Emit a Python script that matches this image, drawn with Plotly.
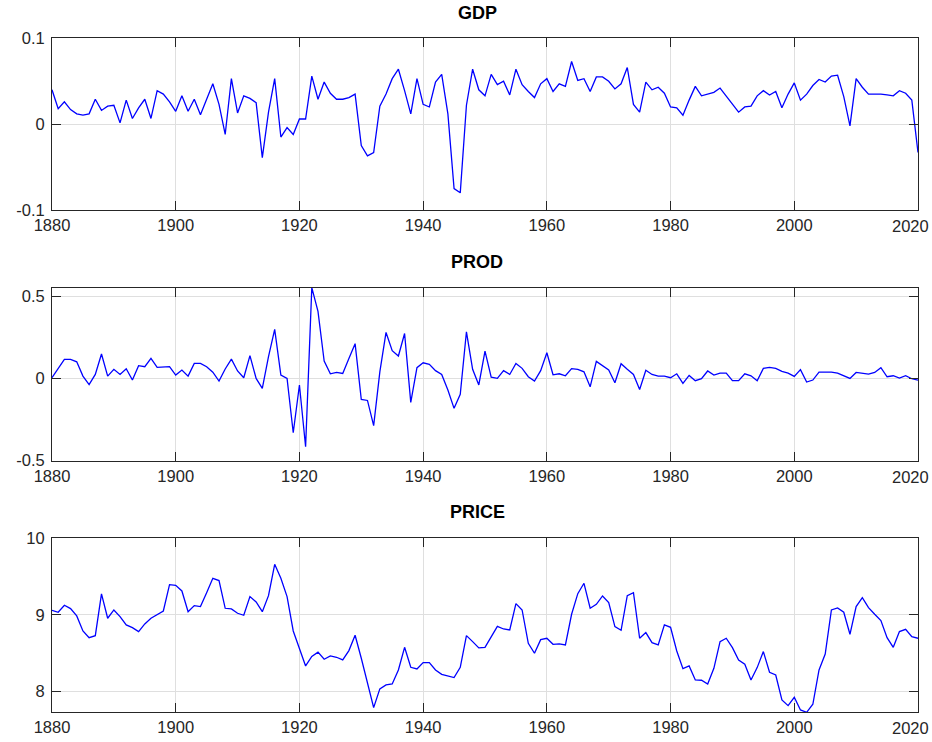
import plotly.graph_objects as go

years = list(range(1880, 2021))

gdp = [
    0.040, 0.018, 0.026, 0.017, 0.012, 0.0105, 0.012, 0.029, 0.016, 0.021,
    0.022, 0.0015, 0.028, 0.0066, 0.019, 0.029, 0.0066, 0.039, 0.035, 0.026,
    0.015, 0.033, 0.015, 0.029, 0.011, 0.028, 0.047, 0.023, -0.012, 0.053,
    0.013, 0.033, 0.030, 0.025, -0.039, 0.014, 0.053, -0.015, -0.004, -0.012,
    0.006, 0.006, 0.056, 0.029, 0.049, 0.036, 0.029, 0.029, 0.031, 0.035,
    -0.025, -0.037, -0.033, 0.021, 0.035, 0.053, 0.064, 0.039, 0.012, 0.053,
    0.023, 0.020, 0.049, 0.058, 0.012, -0.075, -0.080, 0.022, 0.064, 0.040,
    0.033, 0.058, 0.046, 0.050, 0.034, 0.064, 0.046, 0.038, 0.031, 0.047,
    0.053, 0.038, 0.047, 0.044, 0.073, 0.051, 0.053, 0.038, 0.055, 0.055,
    0.050, 0.041, 0.047, 0.066, 0.023, 0.014, 0.049, 0.040, 0.043, 0.036,
    0.020, 0.019, 0.0105, 0.028, 0.044, 0.033, 0.035, 0.037, 0.042, 0.033,
    0.023, 0.014, 0.020, 0.021, 0.033, 0.039, 0.034, 0.038, 0.019, 0.035,
    0.048, 0.028, 0.035, 0.045, 0.052, 0.049, 0.056, 0.057, 0.032, -0.002,
    0.053, 0.043, 0.035, 0.035, 0.035, 0.034, 0.033, 0.039, 0.036, 0.028,
    -0.033,
]

prod = [
    0.004, 0.061, 0.115, 0.115, 0.101, 0.014, -0.038, 0.024, 0.148, 0.014,
    0.055, 0.024, 0.059, -0.010, 0.077, 0.071, 0.121, 0.067, 0.067, 0.071,
    0.020, 0.051, 0.014, 0.091, 0.091, 0.071, 0.038, -0.016, 0.057, 0.117,
    0.045, 0.004, 0.138, 0.000, -0.061, 0.132, 0.298, 0.020, 0.000, -0.330,
    -0.040, -0.415, 0.551, 0.407, 0.105, 0.028, 0.036, 0.030, 0.121, 0.211,
    -0.128, -0.134, -0.287, 0.040, 0.279, 0.168, 0.136, 0.273, -0.146, 0.065,
    0.095, 0.085, 0.047, 0.024, -0.071, -0.182, -0.097, 0.283, 0.055, -0.040,
    0.166, 0.008, 0.000, 0.047, 0.024, 0.091, 0.061, 0.010, -0.016, 0.047,
    0.156, 0.022, 0.028, 0.016, 0.059, 0.055, 0.040, -0.051, 0.103, 0.079,
    0.051, -0.026, 0.089, 0.055, 0.024, -0.067, 0.049, 0.024, 0.014, 0.014,
    0.004, 0.028, -0.030, 0.018, -0.014, -0.002, 0.045, 0.020, 0.032, 0.032,
    -0.014, -0.014, 0.028, 0.016, -0.014, 0.061, 0.067, 0.061, 0.043, 0.032,
    0.012, 0.053, -0.022, -0.010, 0.038, 0.038, 0.038, 0.032, 0.016, 0.000,
    0.036, 0.030, 0.026, 0.036, 0.065, 0.010, 0.016, 0.002, 0.016, -0.002,
    -0.010,
]

price = [
    9.061, 9.035, 9.126, 9.083, 8.987, 8.791, 8.704, 8.730, 9.274, 8.957,
    9.065, 8.978, 8.870, 8.835, 8.783, 8.883, 8.957, 9.000, 9.052, 9.396,
    9.387, 9.313, 9.043, 9.122, 9.109, 9.291, 9.478, 9.448, 9.087, 9.078,
    9.022, 8.996, 9.239, 9.170, 9.043, 9.252, 9.661, 9.478, 9.239, 8.791,
    8.558, 8.335, 8.459, 8.515, 8.422, 8.465, 8.448, 8.413, 8.535, 8.735,
    8.435, 8.100, 7.791, 8.035, 8.087, 8.100, 8.283, 8.578, 8.317, 8.296,
    8.378, 8.378, 8.283, 8.226, 8.209, 8.183, 8.317, 8.730, 8.652, 8.570,
    8.578, 8.717, 8.852, 8.817, 8.804, 9.148, 9.065, 8.630, 8.500, 8.678,
    8.696, 8.617, 8.622, 8.609, 9.009, 9.278, 9.413, 9.087, 9.139, 9.248,
    9.161, 8.848, 8.800, 9.252, 9.291, 8.696, 8.770, 8.639, 8.609, 8.870,
    8.839, 8.530, 8.300, 8.335, 8.152, 8.148, 8.100, 8.304, 8.652, 8.696,
    8.574, 8.413, 8.357, 8.152, 8.313, 8.522, 8.252, 8.217, 7.891, 7.817,
    7.926, 7.761, 7.730, 7.835, 8.283, 8.491, 9.065, 9.091, 9.035, 8.748,
    9.109, 9.226, 9.096, 9.009, 8.926, 8.704, 8.578, 8.783, 8.813, 8.717,
    8.696,
]

titles = ["GDP", "PROD", "PRICE"]
x_ticks = [1880, 1900, 1920, 1940, 1960, 1980, 2000, 2020]
x_ticktext = ["1880", "1900", "1920", "1940", "1960", "1980", "2000", ""]
y_ticks = [[-0.1, 0, 0.1], [-0.5, 0, 0.5], [8, 9, 10]]
y_ticktext = [["-0.1", "0", "0.1"], ["-0.5", "0", "0.5"], ["8", "9", "10"]]
y_ranges = [[-0.1, 0.1], [-0.5, 0.551], [7.73, 10]]

W, H = 932, 742
# panel pixel extents (top, bottom)
panels_px = [(38.3, 210.0), (287.7, 460.7), (538.3, 712.3)]
title_px = [12.7, 262.0, 512.0]
title_x = (477 - 52) / (918 - 52)

FONT = "Liberation Sans, Arial, Helvetica, sans-serif"
TXT = "#262626"
AX = "#262626"
GRID = "#dfdfdf"

fig = go.Figure()
series = [gdp, prod, price]
layout = dict(
    width=W, height=H,
    margin=dict(l=52, r=14, t=0, b=0, pad=0),
    paper_bgcolor="white", plot_bgcolor="white",
    showlegend=False,
    template="none",
    font=dict(family=FONT, size=16.5, color=TXT),
)
annotations = []
for i in range(3):
    sfx = "" if i == 0 else str(i + 1)
    fig.add_trace(go.Scatter(
        x=years, y=series[i], mode="lines",
        line=dict(color="#0000ff", width=1.3),
        xaxis="x" + sfx, yaxis="y" + sfx, hoverinfo="skip",
    ))
    top, bot = panels_px[i]
    dom = [1 - bot / H, 1 - top / H]
    common = dict(
        showline=True, linecolor=AX, linewidth=1, mirror="ticks",
        ticks="inside", ticklen=9, tickwidth=1, tickcolor=AX,
        showgrid=True, gridcolor=GRID, gridwidth=1,
        zeroline=False, automargin=False,
        tickfont=dict(family=FONT, size=16.5, color=TXT),
    )
    layout["xaxis" + sfx] = dict(
        common, domain=[0, 1], range=[1880, 2020], anchor="y" + sfx,
        tickmode="array", tickvals=x_ticks, ticktext=x_ticktext,
    )
    layout["yaxis" + sfx] = dict(
        common, domain=dom, range=y_ranges[i], anchor="x" + sfx,
        tickmode="array", tickvals=y_ticks[i], ticktext=y_ticktext[i],
        ticklabelstandoff=3,
    )
    annotations.append(dict(
        text="<b>%s</b>" % titles[i], xref="paper", yref="paper",
        x=title_x, y=1 - title_px[i] / H, xanchor="center", yanchor="middle",
        showarrow=False, font=dict(family=FONT, size=18, color="black"),
    ))
    annotations.append(dict(
        text="2020", xref="x" + sfx, yref="paper",
        x=2020, y=dom[0], xanchor="center", yanchor="top",
        xshift=-8, yshift=-5, showarrow=False,
        font=dict(family=FONT, size=16.5, color=TXT),
    ))
layout["annotations"] = annotations
fig.update_layout(**layout)
fig.write_html(
    "out.html",
    config={"displayModeBar": False},
    post_script="document.body.style.margin='0';document.body.style.padding='0';",
)
